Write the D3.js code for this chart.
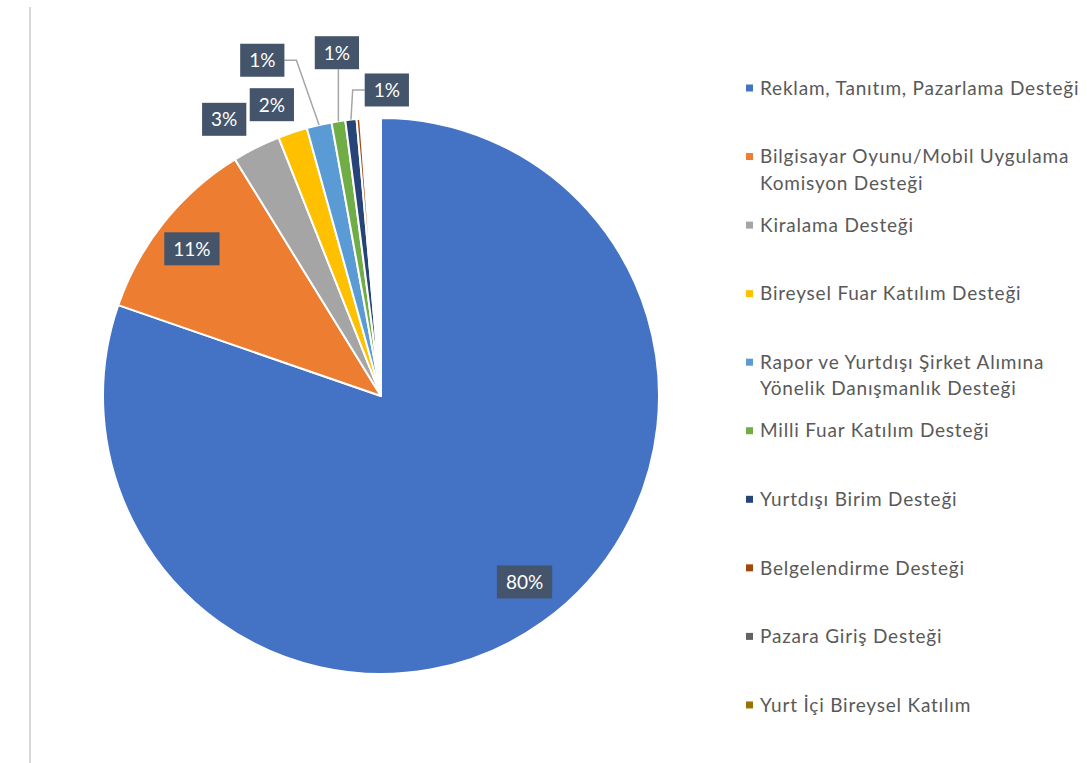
<!DOCTYPE html>
<meta charset="utf-8">
<style>
body { margin: 0; background: #fff; }
svg { display: block; font-family: Lato, "Open Sans", sans-serif; }
.legend text { fill: #595959; font-size: 19px; letter-spacing: 0.8px; }
.labels text { fill: #fff; font-size: 19px; }
</style>
<body>
<script src="https://cdn.jsdelivr.net/npm/d3@7"></script>
<script>

var categories = [
  "Reklam, Tanıtım, Pazarlama Desteği",
  "Bilgisayar Oyunu/Mobil Uygulama Komisyon Desteği",
  "Kiralama Desteği",
  "Bireysel Fuar Katılım Desteği",
  "Rapor ve Yurtdışı Şirket Alımına Yönelik Danışmanlık Desteği",
  "Milli Fuar Katılım Desteği",
  "Yurtdışı Birim Desteği",
  "Belgelendirme Desteği",
  "Pazara Giriş Desteği",
  "Yurt İçi Bireysel Katılım"
];
// share of total, percent
var shares = [80.3, 10.9, 2.8, 1.7, 1.45, 0.8, 0.65, 0.2, 0, 0];
var colors = ["#4472C4", "#ED7D31", "#A5A5A5", "#FFC000", "#5B9BD5",
              "#70AD47", "#264478", "#9E480E", "#636363", "#997300"];

// label placement: [radius as fraction of pie radius, angle nudge (deg), leader line]
var labelPlace = [
  [0.845, -2.2, false], [0.862, -0.8, false], [1.144, -2.9, false], [1.119, -2.0, false],
  [1.281, -6.6, true], [1.245, 1.5, true], [1.101, 7.3, true], null, null, null
];

var width = 1087, height = 763,
    cx = 381, cy = 396, radius = 278;

var data = categories.map(function(c, i) {
  return {name: c, value: shares[i], color: colors[i], place: labelPlace[i]};
});

var svg = d3.select("body").append("svg")
    .attr("width", width)
    .attr("height", height);

// chart frame edge
svg.append("line")
    .attr("x1", 30).attr("x2", 30)
    .attr("y1", 7).attr("y2", height)
    .attr("stroke", "#d9d9d9")
    .attr("stroke-width", 2);

var pie = d3.pie()
    .sort(null)
    .value(function(d) { return d.value; })
    .startAngle(0)
    .endAngle(2 * Math.PI * d3.sum(shares) / 100);

var arc = d3.arc().innerRadius(0).outerRadius(radius);

var arcs = pie(data);

var g = svg.append("g").attr("transform", "translate(" + cx + "," + cy + ")");

g.selectAll("path")
    .data(arcs.filter(function(d) { return d.data.value > 0; }))
  .enter().append("path")
    .attr("d", arc)
    .attr("fill", function(d) { return d.data.color; })
    .attr("stroke", "#fff")
    .attr("stroke-width", 2)
    .attr("stroke-linejoin", "round");

// data labels
var labels = g.append("g").attr("class", "labels");

arcs.forEach(function(d) {
  var p = d.data.place;
  if (!p || d.data.value < 0.5) return;
  var mid = (d.startAngle + d.endAngle) / 2;
  var a = mid + p[1] * Math.PI / 180;
  var x = p[0] * radius * Math.sin(a),
      y = -p[0] * radius * Math.cos(a);

  var lg = labels.append("g");
  var rect = lg.append("rect").attr("fill", "#44546A");
  var t = lg.append("text")
      .attr("x", x).attr("y", y)
      .attr("text-anchor", "middle")
      .attr("dy", "0.36em")
      .text(Math.round(d.data.value) + "%");
  var w = t.node().getComputedTextLength() + 18, h = 33;
  var left = x - w / 2, right = x + w / 2, top = y - h / 2, bottom = y + h / 2;
  rect.attr("x", left).attr("y", top).attr("width", w).attr("height", h);

  if (p[2]) {
    var ex = radius * Math.sin(mid), ey = -radius * Math.cos(mid);
    var path;
    if (ex > right) path = "M" + right + "," + y + "H" + (right + 12) + "L" + ex + "," + ey;
    else if (ex < left) path = "M" + left + "," + y + "H" + (left - 12) + "L" + ex + "," + ey;
    else path = "M" + ex + "," + bottom + "L" + ex + "," + ey;
    lg.insert("path", "rect")
        .attr("d", path)
        .attr("fill", "none")
        .attr("stroke", "#A6A6A6")
        .attr("stroke-width", 1.5);
  }
});

// legend
var legend = svg.append("g").attr("class", "legend");
var legY0 = 88, legStep = 68.55, legX = 746, maxW = 325;

data.forEach(function(d, i) {
  var y = legY0 + i * legStep;
  legend.append("rect")
      .attr("x", legX).attr("y", y - 3.5)
      .attr("width", 7).attr("height", 7)
      .attr("fill", d.color);
  var t = legend.append("text").attr("x", legX + 14).attr("y", y);
  var words = d.name.split(" "), line = [];
  var ts = t.append("tspan").attr("x", legX + 14).attr("dy", "0.35em");
  words.forEach(function(wd) {
    line.push(wd);
    ts.text(line.join(" "));
    if (ts.node().getComputedTextLength() > maxW && line.length > 1) {
      line.pop();
      ts.text(line.join(" "));
      line = [wd];
      ts = t.append("tspan").attr("x", legX + 14).attr("dy", "1.4em").text(wd);
    }
  });
});

</script>
